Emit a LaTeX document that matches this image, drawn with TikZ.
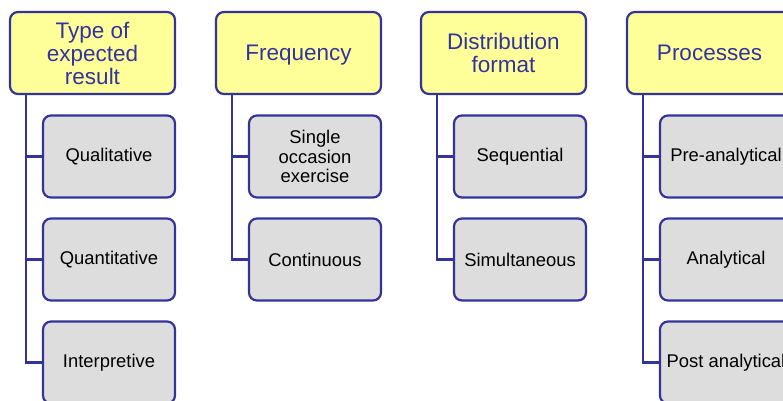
\documentclass[tikz,border=0pt]{standalone}
\usepackage{fontspec}
\setmainfont{Liberation Sans}
\usetikzlibrary{calc}
\definecolor{frameblue}{RGB}{51,51,153}
\definecolor{headtext}{RGB}{51,51,160}
\definecolor{headfill}{RGB}{255,255,153}
\definecolor{itemfill}{RGB}{221,221,221}
\tikzset{
  base/.style={draw=frameblue, line width=2.2pt, rounded corners=8pt,
    minimum width=165pt, minimum height=82pt, align=center, inner sep=2pt},
  head/.style={base, fill=headfill, text=headtext,
    font=\fontsize{22.5}{23}\selectfont},
  item/.style={base, fill=itemfill, minimum width=132pt, text=black,
    font=\fontsize{18.4}{19.5}\selectfont},
  link/.style={draw=frameblue, line width=2.2pt},
}
\begin{document}
\begin{tikzpicture}[x=1pt,y=-1pt]
\useasboundingbox (0,0) rectangle (783,400);
\clip (0,0) rectangle (783,400);
% column headers
\node[head] (h1) at (92.5,53) {Type of\\expected\\result};
\node[head, text depth=0pt] (h2) at (298.5,53) {Frequency};
\node[head] (h3) at (503.5,53) {Distribution\\format};
\node[head] (h4) at (709.5,53) {Processes};
% items under each header
\node[item] (c11) at (109,156.5) {Qualitative};
\node[item] (c12) at (109,259.5) {Quantitative};
\node[item] (c13) at (109,362.5) {Interpretive};
\node[item] (c21) at (315,156.5) {Single\\occasion\\exercise};
\node[item] (c22) at (315,259.5) {Continuous};
\node[item] (c31) at (520,156.5) {Sequential};
\node[item] (c32) at (520,259.5) {Simultaneous};
\node[item] (c41) at (726,156.5) {Pre-analytical};
\node[item] (c42) at (726,259.5) {Analytical};
\node[item] (c43) at (726,362.5) {Post analytical};
% tree connectors
\foreach \h/\c in {h1/c11,h1/c12,h1/c13,h2/c21,h2/c22,h3/c31,h3/c32,h4/c41,h4/c42,h4/c43}
  \draw[link] ($(\h.south west)+(17,0)$) |- (\c.west);
\end{tikzpicture}
\end{document}
